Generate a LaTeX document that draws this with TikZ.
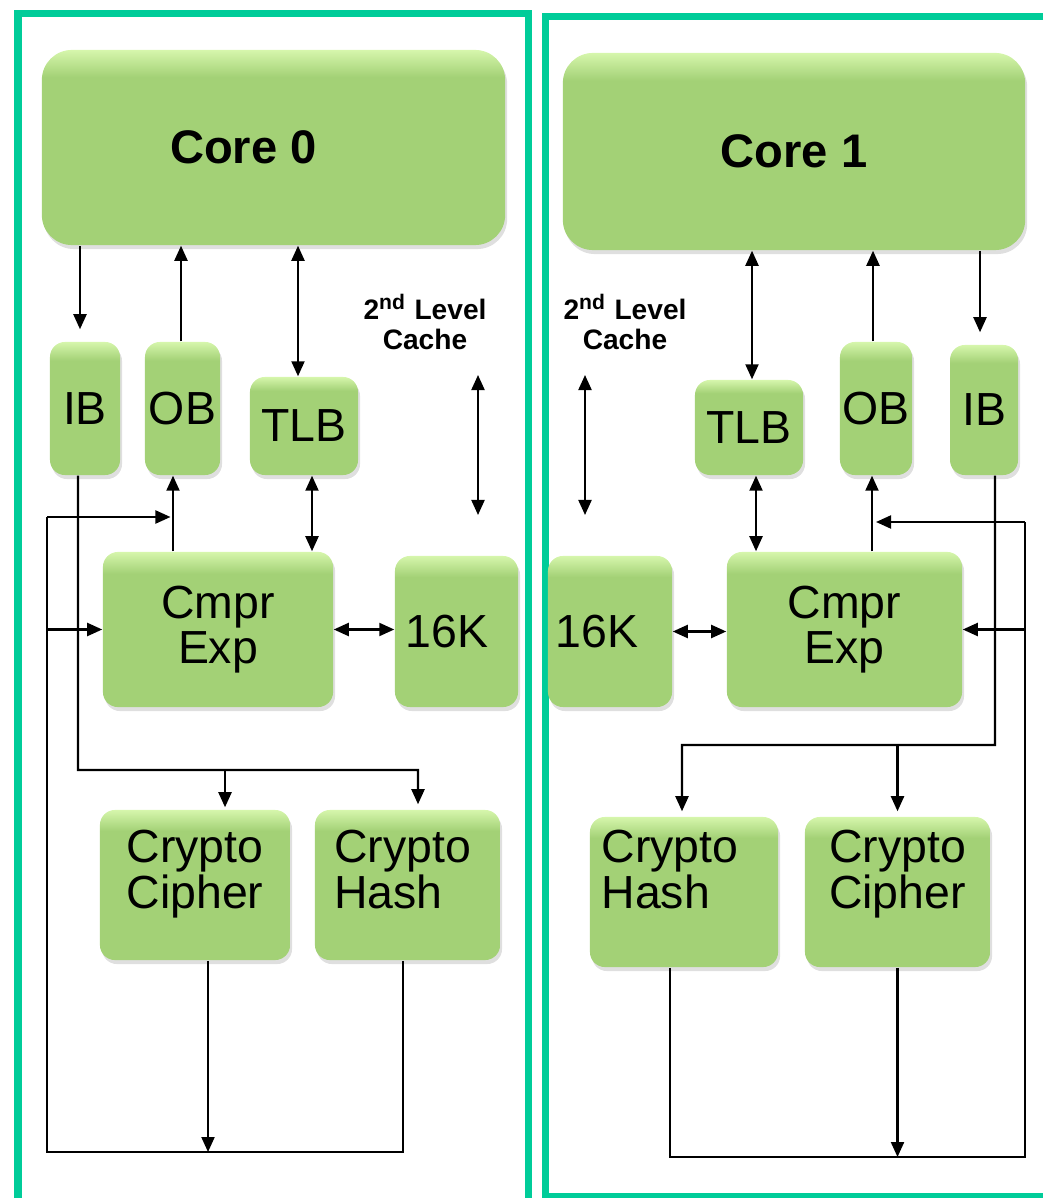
\documentclass[tikz,border=0pt]{standalone}
\usepackage{fontspec}
\setmainfont{Liberation Sans}
\usetikzlibrary{arrows.meta, shadows}
\definecolor{boxMain}{RGB}{163,209,118}
\definecolor{boxLight}{RGB}{214,246,172}
\definecolor{panelGreen}{RGB}{0,204,153}
\pgfdeclareverticalshading{greenbox}{100bp}{color(0bp)=(boxMain); color(25bp)=(boxMain); color(68bp)=(boxMain); color(75bp)=(boxLight); color(100bp)=(boxLight)}
\tikzstyle{block} = [rectangle, rounded corners=0.15cm, shading=greenbox, inner sep=0pt, align=center,
drop shadow={opacity=0.25, shadow xshift=0.02cm, shadow yshift=-0.04cm}, font=\fontsize{13.2}{13}\selectfont]
\tikzstyle{coreBlock} = [block, rounded corners=0.3cm, font=\bfseries\fontsize{13.4}{13}\selectfont]
\tikzstyle{cryptoBlock} = [block, align=left, minimum width=1.88cm, minimum height=1.5cm]
\tikzstyle{cacheText} = [align=center, font=\bfseries\fontsize{8}{8.5}\selectfont]
\tikzstyle{panel} = [line width=0.07cm, draw=panelGreen]
\tikzstyle{line} = [line width=0.5pt, -]
\tikzstyle{arrow} = [line width=0.6pt, -{Triangle[length=0.15cm, width=0.13cm]}]
\tikzstyle{biarrow} = [line width=0.6pt, {Triangle[length=0.15cm, width=0.13cm]}-{Triangle[length=0.15cm, width=0.13cm]}]

\begin{document}
\begin{tikzpicture}[x=0.01cm, y=-0.01cm]
    \useasboundingbox (0,0) rectangle (1043,1198);

    % the two panels
    \draw[panel] (18,1198) -- (18,14) -- (528,14) -- (528,1198);
    \draw[panel] (1043,17) -- (545,17) -- (545,1196) -- (1043,1196);

    % core 0 side
    \node (coreZero) [coreBlock, minimum width=4.63cm, minimum height=1.95cm] at (273.5,147.5) {Core 0\hspace*{0.6cm}};
    \node (ibLeft) [block, minimum width=0.70cm, minimum height=1.33cm] at (85,408.5) {IB};
    \node (obLeft) [block, minimum width=0.75cm, minimum height=1.33cm] at (182.5,408.5) {OB};
    \node (tlbLeft) [block, minimum width=1.08cm, minimum height=0.98cm] at (304,426) {TLB};
    \node (cmprLeft) [block, minimum width=2.30cm, minimum height=1.55cm] at (218,629.5) {Cmpr\\Exp};
    \node (memLeft) [block, minimum width=1.23cm, minimum height=1.51cm] at (456.5,631.5) {16K\hspace*{0.19cm}};
    \node (cipherLeft) [cryptoBlock, minimum width=1.90cm, text depth=0.31cm] at (195,885) {Crypto\\Cipher};
    \node (hashLeft) [cryptoBlock, minimum width=1.85cm, text depth=0.31cm] at (407.5,885) {Crypto\hspace*{0.1cm}\\Hash};
    \node (cacheLeft) [cacheText] at (425,322) {2\textsuperscript{nd} Level\\Cache};
    \coordinate (cacheLeftTop) at (478,375);
    \coordinate (cacheLeftBot) at (478,515);
    \coordinate (feedLeft) at (47,517);
    \coordinate (loopLeft) at (47,1152);
    \coordinate (busLeft) at (78,770);

    \draw[arrow] ([xshift=-0.05cm]ibLeft.north |- coreZero.south) -- ([xshift=-0.05cm, yshift=0.12cm]ibLeft.north);
    \draw[arrow] ([xshift=-0.015cm]obLeft.north) -- ([xshift=-0.015cm]obLeft.north |- coreZero.south);
    \draw[biarrow] ([xshift=-0.06cm]tlbLeft.north |- coreZero.south) -- ([xshift=-0.06cm]tlbLeft.north);
    \draw[biarrow] ([xshift=0.08cm]tlbLeft.south) -- ([xshift=0.08cm]tlbLeft.south |- cmprLeft.north);
    \draw[arrow] ([xshift=-0.095cm]obLeft.south |- cmprLeft.north) -- ([xshift=-0.095cm]obLeft.south);
    \draw[biarrow] (cmprLeft.east) -- (cmprLeft.east -| memLeft.west);
    \draw[biarrow] (cacheLeftTop) -- (cacheLeftBot);
    \draw[line] ([xshift=-0.045cm]hashLeft.south) |- (loopLeft) -- (feedLeft);
    \draw[arrow] (feedLeft) -- ([xshift=-0.12cm]obLeft.south |- feedLeft);
    \draw[arrow] (feedLeft |- cmprLeft.west) -- (cmprLeft.west);
    \draw[arrow] ([xshift=0.13cm]cipherLeft.south) -- ([xshift=0.13cm]cipherLeft.south |- loopLeft);
    \draw[arrow] ([xshift=-0.07cm]ibLeft.south) -- (busLeft) -| ([xshift=0.105cm, yshift=0.05cm]hashLeft.north);
    \draw[arrow] ([xshift=0.3cm]cipherLeft.north |- busLeft) -- ([xshift=0.3cm, yshift=0.02cm]cipherLeft.north);

    % core 1 side
    \node (coreOne) [coreBlock, minimum width=4.62cm, minimum height=1.97cm] at (794,151.5) {Core 1};
    \node (tlbRight) [block, minimum width=1.08cm, minimum height=0.95cm] at (749,427.5) {TLB};
    \node (obRight) [block, minimum width=0.72cm, minimum height=1.33cm] at (876,408.5) {OB};
    \node (ibRight) [block, minimum width=0.68cm, minimum height=1.30cm] at (984,410) {IB};
    \node (memRight) [block, minimum width=1.24cm, minimum height=1.51cm] at (610,631.5) {16K\hspace*{0.26cm}};
    \node (cmprRight) [block, minimum width=2.35cm, minimum height=1.55cm] at (844.5,629.5) {Cmpr\\Exp};
    \node (hashRight) [cryptoBlock, text depth=0.45cm] at (684,892) {Crypto\hspace*{0.28cm}\\Hash};
    \node (cipherRight) [cryptoBlock, minimum width=1.85cm, text depth=0.45cm] at (897.5,892) {Crypto\\Cipher};
    \node (cacheRight) [cacheText] at (625,322) {2\textsuperscript{nd} Level\\Cache};
    \coordinate (cacheRightTop) at (585,375);
    \coordinate (cacheRightBot) at (585,515);
    \coordinate (feedRight) at (1025,522);
    \coordinate (loopRight) at (1025,1157);
    \coordinate (busRight) at (995,745);

    \draw[biarrow] ([xshift=0.03cm]tlbRight.north |- coreOne.south) -- ([xshift=0.03cm]tlbRight.north);
    \draw[arrow] ([xshift=-0.03cm]obRight.north) -- ([xshift=-0.03cm]obRight.north |- coreOne.south);
    \draw[arrow] ([xshift=-0.04cm]ibRight.north |- coreOne.south) -- ([xshift=-0.04cm, yshift=0.12cm]ibRight.north);
    \draw[biarrow] ([xshift=0.07cm]tlbRight.south) -- ([xshift=0.07cm]tlbRight.south |- cmprRight.north);
    \draw[arrow] ([xshift=-0.04cm]obRight.south |- cmprRight.north) -- ([xshift=-0.04cm]obRight.south);
    \draw[biarrow] (memRight.east) -- (memRight.east -| cmprRight.west);
    \draw[biarrow] (cacheRightTop) -- (cacheRightBot);
    \draw[line] ([xshift=-0.14cm]hashRight.south) |- (loopRight) -- (feedRight);
    \draw[arrow] (feedRight) -- ([xshift=0.0cm]obRight.south |- feedRight);
    \draw[arrow] (feedRight |- cmprRight.east) -- (cmprRight.east);
    \draw[arrow] (cipherRight.south) -- (cipherRight.south |- loopRight);
    \draw[arrow] ([xshift=0.11cm]ibRight.south) -- (busRight) -| ([xshift=-0.02cm, yshift=0.05cm]hashRight.north);
    \draw[arrow] (cipherRight.north |- busRight) -- ([yshift=0.05cm]cipherRight.north);

\end{tikzpicture}
\end{document}
